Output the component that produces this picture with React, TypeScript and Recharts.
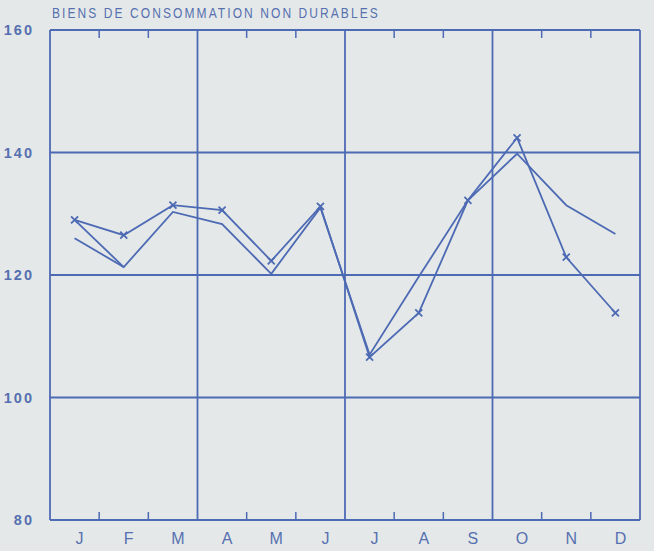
import React from "react";
import { LineChart, Line, XAxis, YAxis, ReferenceLine } from "recharts";

const months = ["J", "F", "M", "A", "M", "J", "J", "A", "S", "O", "N", "D"];
const marked = [129, 126.5, 131.4, 130.6, 122.3, 131.2, 106.6, 113.8, 132.2, 142.4, 122.9, 113.8];
const plain = [126, 121.3, 130.3, 128.3, 120.2, 131, 107, 119.7, 132.2, 139.8, 131.4, 126.7];
// short extra trace from the January cross down to February's low point
const janLink = [129, 121.3];

const yTicks = [80, 100, 120, 140, 160];
const gridX = [3, 6, 9];
const gridY = [100, 120, 140];
const minorX = [1, 2, 4, 5, 7, 8, 10, 11];

const BLUE = "#4d6ab4";
const LABEL = "#5570b0";
const BG = "#e5e8e8";
const FONT = "Liberation Sans, Arial, sans-serif";

const data = months.map((m, i) => ({
  x: i + 0.5,
  month: m,
  marked: marked[i],
  plain: plain[i],
  janLink: i < janLink.length ? janLink[i] : null,
}));

const Cross = (props: any) => {
  const { cx, cy, index } = props;
  if (cx == null || cy == null) return <g key={index} />;
  const s = 3.5;
  return (
    <path
      key={index}
      d={`M${cx - s},${cy - s}L${cx + s},${cy + s}M${cx - s},${cy + s}L${cx + s},${cy - s}`}
      stroke={BLUE}
      strokeWidth={1.8}
    />
  );
};

export default function App() {
  const line = { stroke: BLUE, strokeWidth: 1.8 };
  return (
    <div style={{ position: "absolute", left: 0, top: 0, width: 654, height: 551, background: BG }}>
      <div
        style={{
          position: "absolute",
          left: 52,
          top: 4,
          color: LABEL,
          fontFamily: FONT,
          fontSize: 15,
          letterSpacing: 2.6,
          whiteSpace: "nowrap",
          transform: "scaleX(0.8)",
          transformOrigin: "left top",
        }}
      >
        BIENS DE CONSOMMATION NON DURABLES
      </div>
      <LineChart
        width={654}
        height={551}
        data={data}
        margin={{ top: 30, right: 14, bottom: 1, left: 0 }}
      >
        <XAxis
          dataKey="x"
          type="number"
          domain={[0, 12]}
          ticks={data.map((d) => d.x)}
          tickFormatter={(v: number) => months[Math.floor(v)]}
          tickLine={false}
          axisLine={false}
          tickMargin={7}
          height={30}
          dx={5}
          tick={{ fill: LABEL, fontSize: 16, fontFamily: FONT }}
        />
        <YAxis
          type="number"
          domain={[80, 160]}
          ticks={yTicks}
          tickLine={false}
          axisLine={false}
          width={50}
          tickMargin={10}
          tick={{ fill: LABEL, fontSize: 14.5, fontFamily: FONT, letterSpacing: 2, fontWeight: 600 }}
        />
        {gridY.map((v) => (
          <ReferenceLine key={`gy${v}`} y={v} {...line} />
        ))}
        {gridX.map((v) => (
          <ReferenceLine key={`gx${v}`} x={v} {...line} />
        ))}
        <ReferenceLine x={0} {...line} />
        <ReferenceLine x={12} {...line} />
        <ReferenceLine y={80} {...line} />
        <ReferenceLine y={160} {...line} />
        {minorX.map((v) => (
          <ReferenceLine key={`tb${v}`} segment={[{ x: v, y: 80 }, { x: v, y: 81.3 }]} stroke={BLUE} strokeWidth={1.5} />
        ))}
        {minorX.map((v) => (
          <ReferenceLine key={`tt${v}`} segment={[{ x: v, y: 160 }, { x: v, y: 158.7 }]} stroke={BLUE} strokeWidth={1.5} />
        ))}
        <Line dataKey="plain" type="linear" stroke={BLUE} strokeWidth={1.8} dot={false} isAnimationActive={false} />
        <Line dataKey="janLink" type="linear" stroke={BLUE} strokeWidth={1.8} dot={false} connectNulls={false} isAnimationActive={false} />
        <Line dataKey="marked" type="linear" stroke={BLUE} strokeWidth={1.8} dot={<Cross />} isAnimationActive={false} />
      </LineChart>
    </div>
  );
}
